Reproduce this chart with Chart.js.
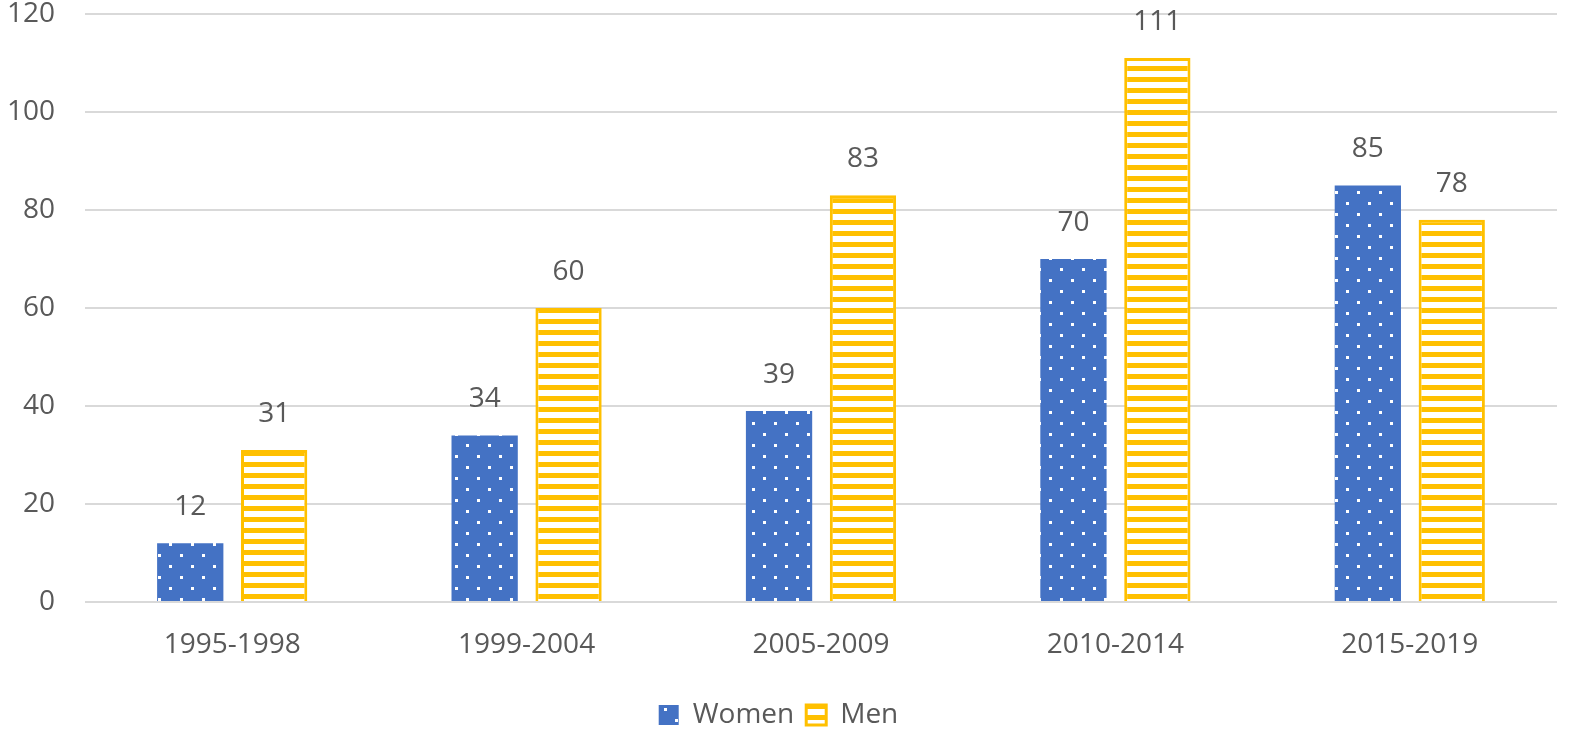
<!DOCTYPE html>
<html>
<head>
<meta charset="utf-8">
<script src="https://cdn.jsdelivr.net/npm/chart.js@4/dist/chart.umd.min.js"></script>
<style>
    html, body { margin: 0; padding: 0; background: #ffffff; overflow: hidden; }
    #wrap { width: 1575px; height: 734px; position: relative; }
    canvas { display: block; }
</style>
</head>
<body>
<div id="wrap"><canvas id="periods"></canvas></div>
<script>
const periods = ['1995-1998', '1999-2004', '2005-2009', '2010-2014', '2015-2019'];
const women = [12, 34, 39, 70, 85];
const men = [31, 60, 83, 111, 78];
const yTicks = [0, 20, 40, 60, 80, 100, 120];

// dotted blue fill for women
function dotPattern() {
    const c = document.createElement('canvas');
    c.width = 22;
    c.height = 22;
    const ctx = c.getContext('2d');
    ctx.fillStyle = '#4472C4';
    ctx.fillRect(0, 0, 22, 22);
    ctx.fillStyle = '#ffffff';
    ctx.fillRect(4, 4, 3, 3);
    ctx.fillRect(15, 15, 3, 3);
    return ctx.createPattern(c, 'repeat');
}

// horizontal stripes for men
function stripePattern() {
    const c = document.createElement('canvas');
    c.width = 4;
    c.height = 11;
    const ctx = c.getContext('2d');
    ctx.fillStyle = '#FFC000';
    ctx.fillRect(0, 0, 4, 11);
    ctx.fillStyle = '#ffffff';
    ctx.fillRect(0, 5, 4, 6);
    return ctx.createPattern(c, 'repeat');
}

const valueLabels = {
    id: 'valueLabels',
    afterDatasetsDraw(chart) {
        const ctx = chart.ctx;
        ctx.save();
        ctx.font = '28px "Open Sans"';
        ctx.fillStyle = '#595959';
        ctx.textAlign = 'center';
        ctx.textBaseline = 'middle';
        chart.data.datasets.forEach((ds, i) => {
            chart.getDatasetMeta(i).data.forEach((bar, j) => {
                ctx.fillText(ds.data[j], bar.x, bar.y - 36);
            });
        });
        ctx.restore();
    }
};

const data = {
    labels: periods,
    datasets: [{
        label: 'Women',
        data: women,
        backgroundColor: dotPattern(),
        borderColor: '#4472C4',
        borderWidth: 0,
        categoryPercentage: 0.57,
        barPercentage: 0.79
    }, {
        label: 'Men',
        data: men,
        backgroundColor: stripePattern(),
        borderColor: '#FFC000',
        borderWidth: 3,
        categoryPercentage: 0.57,
        barPercentage: 0.79
    }]
};

const config = {
    type: 'bar',
    data: data,
    options: {
        responsive: true,
        maintainAspectRatio: false,
        animation: false,
        layout: {
            autoPadding: false,
            padding: { top: 14, right: 18, bottom: -5, left: 0 }
        },
        plugins: {
            legend: {
                position: 'bottom',
                labels: {
                    color: '#595959',
                    font: { family: '"Open Sans"', size: 28 },
                    boxWidth: 20,
                    boxHeight: 20,
                    padding: 12
                }
            },
            tooltip: { enabled: false }
        },
        scales: {
            x: {
                grid: { display: false },
                border: { display: false },
                afterFit(axis) {
                    axis.height = 87;
                },
                ticks: {
                    color: '#595959',
                    padding: 18,
                    font: { family: '"Open Sans"', size: 28 }
                }
            },
            y: {
                min: 0,
                max: 120,
                afterBuildTicks(axis) {
                    axis.ticks = yTicks.map(v => ({ value: v }));
                },
                afterFit(axis) {
                    axis.width = 85;
                    // tick padding is meant for the horizontal gap only
                    axis.paddingTop = 0;
                    axis.paddingBottom = 0;
                },
                grid: { color: '#d9d9d9', lineWidth: 2, drawTicks: false },
                border: { display: false },
                ticks: {
                    color: '#595959',
                    padding: 30,
                    font: { family: '"Open Sans"', size: 28 }
                }
            }
        }
    },
    plugins: [valueLabels]
};

var chartPeriods = new Chart(
    document.getElementById('periods'),
    config
);
</script>
</body>
</html>
